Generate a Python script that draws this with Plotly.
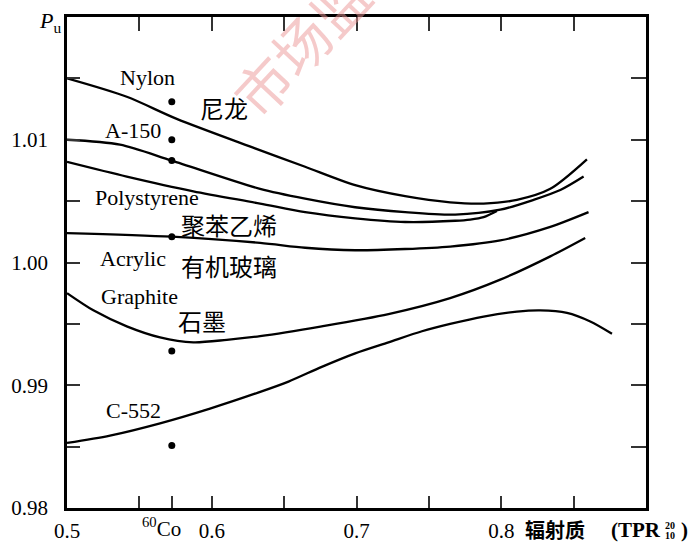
import plotly.graph_objects as go

# ---------------- data ----------------
nylon_x = [0.5, 0.5413, 0.5758, 0.6299, 0.6645, 0.6991, 0.7336, 0.7647, 0.7878, 0.8108, 0.8339, 0.8592]
nylon_y = [1.0150, 1.0135, 1.0117, 1.0093, 1.0078, 1.0063, 1.0054, 1.0049, 1.0048, 1.0051, 1.0060, 1.0084]

a150_x = [0.5, 0.5366, 0.5724, 0.6334, 0.6645, 0.6991, 0.7336, 0.7682, 0.7993, 0.8223, 0.8408, 0.8569]
a150_y = [1.0100, 1.0096, 1.0083, 1.0060, 1.0052, 1.0045, 1.0041, 1.0039, 1.0043, 1.0051, 1.0059, 1.0070]

poly_x = [0.5, 0.5413, 0.5873, 0.6334, 0.6645, 0.6991, 0.7336, 0.7682, 0.7786, 0.7878, 0.7970]
poly_y = [1.0082, 1.0070, 1.0058, 1.0048, 1.0041, 1.0036, 1.0033, 1.0034, 1.0035, 1.0037, 1.0042]

acry_x = [0.5, 0.5724, 0.6334, 0.6645, 0.6991, 0.7336, 0.7647, 0.7993, 0.8339, 0.8603]
acry_y = [1.0024, 1.0021, 1.0016, 1.0012, 1.0010, 1.0011, 1.0013, 1.0018, 1.0029, 1.0041]

graph_x = [0.5, 0.5182, 0.5413, 0.5643, 0.5873, 0.6104, 0.6334, 0.6760, 0.7221, 0.7647, 0.7993, 0.8339, 0.8580]
graph_y = [0.9975, 0.9961, 0.9948, 0.9939, 0.9935, 0.9937, 0.9940, 0.9948, 0.9958, 0.9971, 0.9986, 1.0005, 1.0020]

c552_x = [0.5, 0.5297, 0.5643, 0.5988, 0.6320, 0.6530, 0.6760, 0.6991, 0.7221, 0.7452, 0.7647,
          0.7878, 0.8108, 0.8269, 0.8454, 0.8615, 0.8765]
c552_y = [0.9853, 0.9859, 0.9869, 0.9881, 0.9894, 0.9903, 0.9915, 0.9926, 0.9935, 0.9944, 0.9950,
          0.9956, 0.9960, 0.9961, 0.9959, 0.9952, 0.9942]

# 60Co points (Nylon, A-150, Polystyrene, Acrylic, Graphite, C-552)
co60_x = [0.5724, 0.5724, 0.5724, 0.5724, 0.5724, 0.5724]
co60_y = [1.0131, 1.0100, 1.0083, 1.0021, 0.9928, 0.9851]

x_ticks = [0.5, 0.6, 0.7, 0.8]
x_ticktext = ["0.5", "0.6", "0.7", "0.8"]
x_minor = [0.55, 0.5724, 0.65, 0.75, 0.85]
x_top_ticks = [0.55, 0.6, 0.65, 0.7, 0.75, 0.8, 0.85]
y_ticks = [0.98, 0.99, 1.00, 1.01]
y_ticktext = ["0.98", "0.99", "1.00", "1.01"]
y_minor = [0.985, 0.995, 1.005, 1.015]
y_right_ticks = [0.985, 0.99, 0.995, 1.00, 1.005, 1.01, 1.015]

# ---------------- layout geometry ----------------
W, H = 699, 544
ML, MR, MT, MB = 67, 53, 17, 36
PW, PH = W - ML - MR, H - MT - MB


def fx(px):
    return (px - ML) / PW


def fy(py):
    return (H - MB - py) / PH


SERIF = "Liberation Serif"
CJK = "Noto Sans CJK SC"
INK = "black"

fig = go.Figure()
line_style = dict(color=INK, width=2.3, shape="spline", smoothing=0.8)
for name, xs, ys in [("Nylon", nylon_x, nylon_y), ("A-150", a150_x, a150_y),
                     ("Polystyrene", poly_x, poly_y), ("Acrylic", acry_x, acry_y),
                     ("Graphite", graph_x, graph_y), ("C-552", c552_x, c552_y)]:
    fig.add_trace(go.Scatter(x=xs, y=ys, mode="lines", line=line_style, name=name,
                             showlegend=False, hoverinfo="skip"))

fig.add_trace(go.Scatter(x=co60_x, y=co60_y, mode="markers",
                         marker=dict(color=INK, size=7), showlegend=False))

# invisible trace to activate the mirror axes (top / right)
fig.add_trace(go.Scatter(x=[0.7], y=[1.0], xaxis="x2", yaxis="y2", mode="markers",
                         marker=dict(opacity=0), showlegend=False, hoverinfo="skip"))

tick_col = "#333333"
fig.update_layout(
    template="none",
    width=W, height=H,
    margin=dict(l=ML, r=MR, t=MT, b=MB, pad=0, autoexpand=False),
    paper_bgcolor="white", plot_bgcolor="white",
    xaxis=dict(range=[0.5, 0.9], tickvals=x_ticks, ticktext=x_ticktext, automargin=False,
               ticks="inside", ticklen=12, tickwidth=2, tickcolor=tick_col,
               minor=dict(tickvals=x_minor, ticks="inside", ticklen=12, tickwidth=2, tickcolor=tick_col),
               showline=True, linewidth=2.6, linecolor=INK, showgrid=False, zeroline=False,
               tickfont=dict(family=SERIF, size=21, color=INK), ticklabelstandoff=2),
    yaxis=dict(range=[0.98, 1.02], tickvals=y_ticks, ticktext=y_ticktext, automargin=False,
               ticks="inside", ticklen=13, tickwidth=2, tickcolor=tick_col,
               minor=dict(tickvals=y_minor, ticks="inside", ticklen=13, tickwidth=2, tickcolor=tick_col),
               showline=True, linewidth=2.6, linecolor=INK, showgrid=False, zeroline=False,
               tickfont=dict(family=SERIF, size=21, color=INK), ticklabelstandoff=12),
    xaxis2=dict(range=[0.5, 0.9], overlaying="x", side="top", anchor="y", automargin=False,
                tickvals=x_top_ticks, ticks="inside", ticklen=14, tickwidth=2, tickcolor=tick_col,
                showticklabels=False, showline=True, linewidth=2.6, linecolor=INK,
                showgrid=False, zeroline=False),
    yaxis2=dict(range=[0.98, 1.02], overlaying="y", side="right", anchor="x", automargin=False,
                tickvals=y_right_ticks, ticks="inside", ticklen=15, tickwidth=2, tickcolor=tick_col,
                showticklabels=False, showline=True, linewidth=2.6, linecolor=INK,
                showgrid=False, zeroline=False),
)

annots = []


def lab(text, px, py, font, size, color=INK, **kw):
    annots.append(dict(text=text, x=fx(px), y=fy(py), xref="paper", yref="paper",
                       showarrow=False, xanchor="center", yanchor="middle",
                       font=dict(family=font, size=size, color=color), **kw))


# curve labels
lab("Nylon", 147.5, 77, SERIF, 22)
lab("尼龙", 223.5, 108, CJK, 24)
lab("A-150", 132.5, 130.5, SERIF, 22)
lab("Polystyrene", 146.5, 198, SERIF, 22)
lab("聚苯乙烯", 229, 224, CJK, 24)
lab("Acrylic", 132.5, 258, SERIF, 22)
lab("有机玻璃", 229, 265, CJK, 24)
lab("Graphite", 139, 296, SERIF, 22)
lab("石墨", 202, 320, CJK, 24)
lab("C-552", 133.5, 410.5, SERIF, 22)

# axis texts
lab("<i>P</i><sub>u</sub>", 50, 22, SERIF, 22)
lab("<sup>60</sup>Co", 161, 527, SERIF, 21)
lab("<b>辐射质</b>", 555, 529, CJK, 20)
lab("<b>(TPR</b>", 636, 530, SERIF, 21)
lab("<b>20</b>", 670, 525, SERIF, 10)
lab("<b>10</b>", 670, 535, SERIF, 10)
lab("<b>)</b>", 684, 530, SERIF, 21)

# watermark
lab("市场监", 300, 44, CJK, 56, color="rgba(236,150,150,0.5)", textangle=-47)

fig.update_layout(annotations=annots)
fig.write_html("out.html", config={"displayModeBar": False},
               post_script="document.body.style.margin='0';document.body.style.padding='0';")
